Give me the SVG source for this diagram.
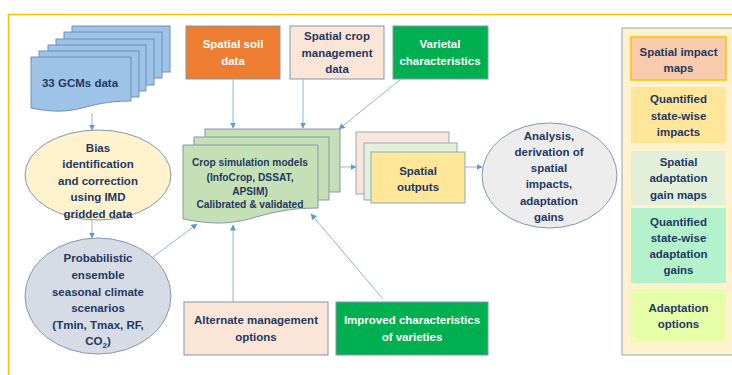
<svg xmlns="http://www.w3.org/2000/svg" width="732" height="375" viewBox="0 0 732 375">
<defs>
<style>
text{font-family:"Liberation Sans",Arial,sans-serif;font-weight:bold;font-size:11.5px;fill:#1F3864;text-anchor:middle}
.w{fill:#FFFFFF}
.sm{font-size:10.2px}
.bx{stroke:#8497B0;stroke-width:1}
.con{fill:none;stroke:#8FB4DE;stroke-width:1;marker-end:url(#ah)}
</style>
<marker id="ah" markerUnits="userSpaceOnUse" markerWidth="6" markerHeight="6" refX="5.5" refY="3" orient="auto">
<path d="M0,0 L6,3 L0,6 Z" fill="#5B9BD5"/>
</marker>
</defs>
<rect width="732" height="375" fill="#FFFFFF"/>
<path d="M8.5,375 V14.5 H732" fill="none" stroke="#FFC000" stroke-width="1.5"/>

<g id="gcms">
<rect x="72" y="26" width="98" height="46" fill="#9DC3E6" stroke="#6F8FB8"/>
<rect x="64" y="32" width="98" height="46" fill="#9DC3E6" stroke="#6F8FB8"/>
<rect x="56" y="39" width="98" height="46" fill="#9DC3E6" stroke="#6F8FB8"/>
<rect x="48" y="45" width="98" height="46" fill="#9DC3E6" stroke="#6F8FB8"/>
<rect x="39" y="51" width="100" height="46" fill="#9DC3E6" stroke="#6F8FB8"/>
<path d="M31,57 H131 V101 C81,101 81,118 31,108 Z" fill="#9DC3E6" stroke="#6F8FB8"/>
<text x="80" y="87">33 GCMs data</text>
</g>

<g id="soil">
<rect class="bx" x="186" y="26" width="94" height="53" fill="#ED7D31"/>
<text class="w" x="233" y="48">Spatial soil</text>
<text class="w" x="233" y="65">data</text>
</g>

<g id="cropmgmt">
<rect class="bx" x="290" y="26" width="94" height="53" fill="#FBE5D6"/>
<text x="337" y="40">Spatial crop</text>
<text x="337" y="57">management</text>
<text x="337" y="73">data</text>
</g>

<g id="varietal">
<rect class="bx" x="393" y="26" width="95" height="53" fill="#00B050"/>
<text class="w" x="440" y="48">Varietal</text>
<text class="w" x="440" y="65">characteristics</text>
</g>

<g id="bias">
<ellipse cx="98" cy="175" rx="73" ry="45" fill="#FFF2CC" stroke="#8497B0"/>
<text x="98" y="152">Bias</text>
<text x="98" y="168">identification</text>
<text x="98" y="185">and correction</text>
<text x="98" y="201">using IMD</text>
<text x="98" y="218">gridded data</text>
</g>

<g id="prob">
<ellipse cx="98" cy="296" rx="73" ry="58" fill="#D6DCE5" stroke="#8497B0"/>
<text x="98" y="262">Probabilistic</text>
<text x="98" y="279">ensemble</text>
<text x="98" y="296">seasonal climate</text>
<text x="98" y="312">scenarios</text>
<text x="98" y="329">(Tmin, Tmax, RF,</text>
<text x="98" y="345">CO<tspan font-size="8" dy="3">2</tspan><tspan dy="-3">)</tspan></text>
</g>

<g id="cropsim">
<rect x="205" y="129" width="135" height="63" fill="#C5E0B4" stroke="#8497B0"/>
<rect x="194" y="137" width="135" height="63" fill="#C5E0B4" stroke="#8497B0"/>
<path d="M183,145 H318 V208 C250.5,208 250.5,232.5 183,219 Z" fill="#C5E0B4" stroke="#8497B0"/>
<text class="sm" x="250" y="166">Crop simulation models</text>
<text class="sm" x="250" y="181">(InfoCrop, DSSAT,</text>
<text class="sm" x="250" y="195">APSIM)</text>
<text class="sm" x="250" y="208">Calibrated &amp; validated</text>
</g>

<g id="outputs">
<rect x="356" y="132" width="93" height="62" fill="#FBE5D6" stroke="#8EA9C1"/>
<rect x="364" y="143" width="93" height="57" fill="#E2F0D9" stroke="#8EA9C1"/>
<rect x="371" y="152" width="94" height="51" fill="#FFE699" stroke="#8EA9C1"/>
<text x="418" y="175">Spatial</text>
<text x="418" y="191">outputs</text>
</g>

<g id="analysis">
<ellipse cx="549.5" cy="175.5" rx="67.5" ry="52.5" fill="#EDEDED" stroke="#8497B0"/>
<text x="549" y="140">Analysis,</text>
<text x="549" y="156">derivation of</text>
<text x="549" y="172">spatial</text>
<text x="549" y="188">impacts,</text>
<text x="549" y="205">adaptation</text>
<text x="549" y="221">gains</text>
</g>

<g id="panel">
<rect x="622" y="28" width="114" height="327" fill="#FFF2CC" stroke="#8EA9C1"/>
</g>
<g id="impactmaps">
<rect x="631" y="37" width="95" height="43" fill="#F8CBAD" stroke="#FFC000" stroke-width="1.5"/>
<text x="678.5" y="56">Spatial impact</text>
<text x="678.5" y="72">maps</text>
</g>
<g id="stateimpacts">
<rect x="631" y="87" width="95" height="56" fill="#FFE699"/>
<text x="678.5" y="103">Quantified</text>
<text x="678.5" y="120">state-wise</text>
<text x="678.5" y="136">impacts</text>
</g>
<g id="gainmaps">
<rect x="631" y="151" width="95" height="54" fill="#E2F0D9"/>
<text x="678.5" y="166">Spatial</text>
<text x="678.5" y="182">adaptation</text>
<text x="678.5" y="199">gain maps</text>
</g>
<g id="stategains">
<rect x="631" y="208" width="95" height="75" fill="#B3F2CB"/>
<text x="678.5" y="226">Quantified</text>
<text x="678.5" y="242">state-wise</text>
<text x="678.5" y="258">adaptation</text>
<text x="678.5" y="274">gains</text>
</g>
<g id="adaptoptions">
<rect x="631" y="289" width="95" height="53" fill="#E6FFA8"/>
<text x="678.5" y="312">Adaptation</text>
<text x="678.5" y="328">options</text>
</g>

<g id="altmgmt">
<rect class="bx" x="184" y="302" width="144" height="53" fill="#FBE5D6"/>
<text x="256" y="324">Alternate management</text>
<text x="256" y="341">options</text>
</g>

<g id="improved">
<rect class="bx" x="336" y="302" width="152" height="53" fill="#00B050"/>
<text class="w" x="412" y="324">Improved characteristics</text>
<text class="w" x="412" y="341">of varieties</text>
</g>

<g id="connectors">
<path class="con" d="M92,113 L92,130"/>
<path class="con" d="M92,220 L92,238"/>
<path class="con" d="M233,79 L233,128"/>
<path class="con" d="M303,79 L303,128"/>
<path class="con" d="M401,79 L339,129"/>
<path class="con" d="M153,257 L197,224"/>
<path class="con" d="M233,302 L233,225"/>
<path class="con" d="M383,299 L311,214"/>
<path class="con" d="M340,167 L356,167"/>
<path class="con" d="M465,167 L482,167"/>
</g>
</svg>
